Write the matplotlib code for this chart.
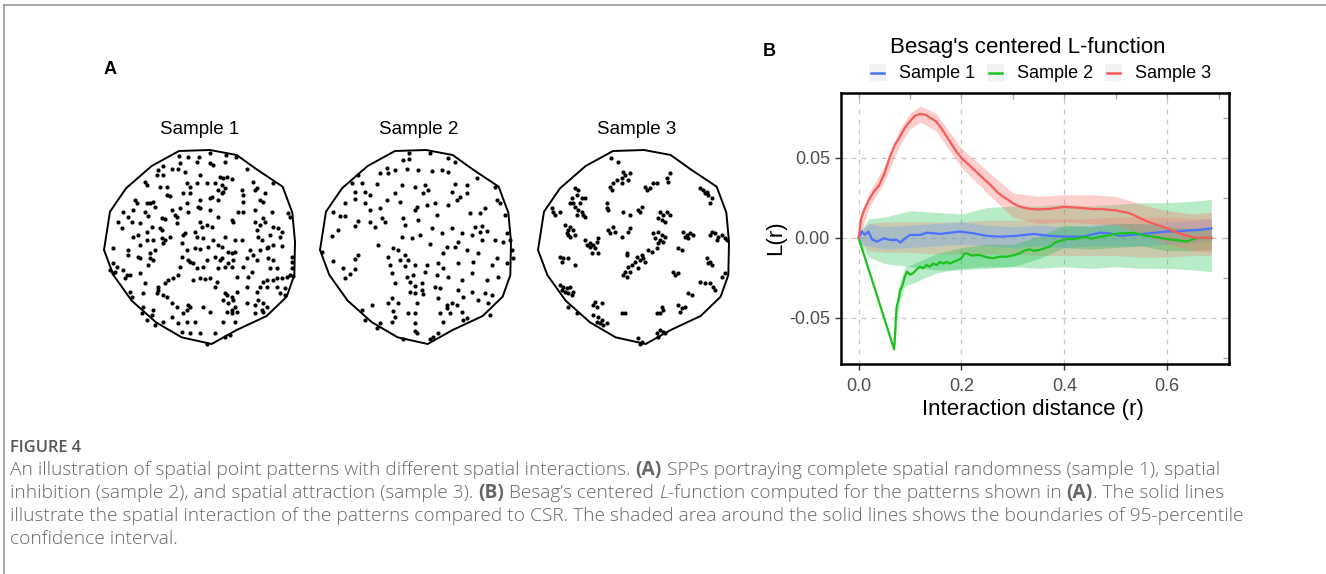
import numpy as np
import matplotlib.pyplot as plt
from matplotlib.patches import Polygon, Rectangle
from matplotlib.lines import Line2D

# ---------------- panel A: point patterns (read on a 3x grid of each crop) ----------------
window = [(237, 33), (330, 30), (410, 45), (470, 88), (548, 140), (577, 218), (585, 305),
          (583, 405), (560, 470), (500, 528), (410, 570), (335, 612), (245, 592), (168, 547),
          (95, 482), (40, 405), (12, 330), (30, 215), (78, 145), (155, 78)]

sample1 = [
    (237, 48), (265, 50), (297, 52), (292, 65), (330, 38), (377, 45), (408, 50), (240, 68), (330, 68), (340, 75), (375, 65),
    (190, 78), (215, 88), (233, 88), (175, 90), (255, 97), (190, 105), (170, 105), (135, 125), (140, 135), (300, 105),
    (360, 110), (370, 115), (380, 112), (395, 118), (440, 88),
    (180, 140), (200, 142), (260, 128), (290, 128), (320, 130), (345, 130), (365, 135), (375, 145), (355, 150), (365, 160),
    (370, 155), (425, 150), (460, 125), (470, 145), (465, 150), (495, 158), (520, 130),
    (105, 180), (110, 190), (140, 190), (150, 188), (160, 185), (200, 165), (210, 168), (250, 160), (270, 158), (270, 140),
    (300, 180), (330, 175), (355, 180), (335, 170), (430, 165), (430, 185), (480, 180), (490, 185),
    (70, 215), (85, 230), (55, 245), (100, 210), (135, 215), (145, 228), (165, 200), (185, 235), (215, 210), (225, 225),
    (232, 230), (240, 205), (260, 190), (265, 215), (295, 200), (300, 205), (330, 210), (415, 215), (430, 215), (465, 210),
    (515, 215), (565, 220), (570, 230),
    (65, 265), (95, 245), (120, 250), (155, 260), (180, 265), (185, 270), (195, 238), (230, 250), (300, 245), (305, 260),
    (320, 255), (335, 262), (355, 230), (395, 240), (400, 245), (465, 245), (490, 235), (495, 245), (480, 255), (520, 260),
    (535, 265), (545, 275),
    (100, 290), (115, 285), (140, 275), (140, 300), (160, 300), (185, 295), (195, 300), (210, 290), (250, 285), (255, 280),
    (285, 275), (290, 290), (310, 295), (340, 300), (375, 290), (405, 300), (425, 300), (470, 270), (475, 290), (485, 300),
    (510, 285), (540, 290),
    (40, 325), (85, 330), (120, 315), (150, 340), (165, 330), (190, 310), (245, 310), (260, 330), (285, 325), (300, 328),
    (325, 320), (355, 315), (365, 320), (385, 335), (395, 340), (405, 335), (450, 330), (460, 345), (480, 330), (500, 325),
    (505, 320), (520, 315), (545, 318),
    (40, 370), (50, 380), (85, 345), (115, 350), (120, 355), (150, 355), (160, 360), (245, 350), (265, 360), (270, 365),
    (280, 370), (320, 360), (345, 350), (360, 360), (365, 355), (385, 370), (400, 360), (440, 355), (470, 360), (505, 355),
    (520, 360), (575, 350), (575, 365),
    (30, 390), (40, 400), (45, 395), (70, 390), (80, 405), (120, 400), (145, 375), (240, 380), (290, 385), (310, 380),
    (355, 385), (375, 380), (395, 380), (430, 380), (455, 395), (510, 385), (530, 385), (575, 385), (570, 405),
    (75, 415), (90, 405), (135, 430), (175, 440), (195, 430), (205, 420), (220, 415), (235, 405), (280, 420), (300, 415),
    (315, 418), (330, 415), (350, 425), (410, 410), (445, 410), (490, 425), (500, 420), (520, 420), (530, 415), (545, 415),
    (560, 410), (580, 408),
    (90, 455), (95, 470), (130, 460), (170, 460), (175, 450), (190, 465), (200, 470), (345, 440), (375, 460), (380, 465),
    (395, 470), (410, 455), (440, 440), (470, 455), (480, 440), (500, 440), (530, 440), (555, 445),
    (130, 500), (160, 510), (215, 490), (230, 500), (265, 495), (260, 510), (310, 500), (370, 480), (385, 490), (400, 480),
    (405, 500), (395, 510), (440, 490), (465, 495), (475, 480), (490, 490), (500, 500), (540, 460), (555, 465),
    (125, 520), (155, 525), (215, 530), (250, 520), (270, 500), (330, 515), (380, 515), (395, 520), (410, 515), (485, 510),
    (490, 515), (465, 520),
    (140, 540), (165, 555), (190, 545), (235, 550), (260, 545), (285, 545), (370, 545), (405, 545),
    (245, 575), (270, 580), (300, 580), (345, 578), (375, 590), (320, 612), (390, 585)]

sample2 = [
    (283, 38), (345, 38), (265, 60), (283, 58), (400, 55), (420, 65),
    (215, 85), (240, 90), (195, 100), (220, 100), (275, 88), (310, 90), (350, 92), (380, 90), (400, 97), (130, 105),
    (110, 130), (485, 115),
    (140, 128), (185, 132), (260, 135), (300, 142), (330, 135), (340, 150), (325, 160), (420, 132), (455, 135), (540, 140),
    (120, 155), (150, 155), (165, 165), (240, 160), (410, 155), (435, 170), (455, 160),
    (90, 190), (120, 178), (150, 190), (215, 180), (255, 185), (300, 210), (305, 200), (335, 195), (360, 190), (400, 195),
    (425, 180), (545, 180), (555, 190),
    (55, 215), (75, 228), (90, 228), (165, 210), (195, 205), (200, 235), (210, 245), (130, 242), (120, 258), (165, 245),
    (180, 262), (265, 235), (270, 255), (310, 240), (365, 225), (465, 218), (510, 205), (495, 220), (570, 225),
    (70, 270), (50, 288), (260, 290), (290, 295), (315, 285), (350, 265), (380, 280), (410, 265), (440, 280), (470, 285),
    (480, 262), (500, 258), (515, 272), (495, 275), (575, 280), (585, 300), (565, 305),
    (190, 315), (235, 325), (250, 330), (270, 345), (220, 350), (345, 312), (395, 320), (420, 320), (430, 305), (385, 340),
    (455, 330), (490, 340), (540, 300), (500, 300), (590, 330), (595, 355),
    (20, 335), (55, 362), (120, 357), (130, 345), (225, 375), (255, 360), (280, 360), (300, 375), (270, 378), (335, 375),
    (370, 370), (385, 385), (430, 370), (475, 365), (530, 375), (545, 355), (575, 370),
    (85, 385), (120, 388), (105, 402), (90, 415), (230, 400), (275, 412), (295, 405), (330, 395), (365, 405), (400, 410),
    (440, 420), (470, 400), (515, 420), (550, 410),
    (240, 430), (285, 425), (300, 438), (320, 430), (285, 455), (300, 460), (325, 462), (320, 450), (375, 445), (360, 440),
    (430, 450), (470, 455), (510, 460), (530, 465),
    (230, 475), (220, 488), (250, 490), (305, 488), (370, 475), (395, 495), (410, 490), (425, 495), (445, 470), (490, 480),
    (520, 490),
    (140, 510), (170, 495), (235, 512), (280, 520), (300, 520), (375, 520), (395, 505), (405, 520), (440, 515), (455, 533),
    (525, 525),
    (150, 540), (195, 550), (230, 545), (240, 530), (300, 550), (385, 545), (445, 540),
    (185, 565), (300, 572), (305, 580), (370, 578), (355, 590), (265, 598), (345, 598)]

sample3 = [
    (228, 55), (248, 65),
    (265, 95), (270, 105), (285, 100), (260, 115), (280, 120), (245, 120), (235, 130), (225, 140), (230, 150), (262, 130),
    (330, 140), (335, 150), (345, 145), (355, 130), (365, 130), (395, 115), (405, 100), (400, 125),
    (495, 145), (505, 150), (510, 160), (520, 165), (530, 175), (525, 190), (515, 155),
    (120, 145), (130, 150), (125, 165), (110, 175), (140, 175), (115, 190), (105, 190), (135, 190), (120, 200), (130, 210),
    (140, 215), (145, 225), (150, 230), (125, 225), (150, 175),
    (50, 205), (55, 215), (60, 225), (75, 215),
    (215, 190), (215, 205), (220, 210),
    (265, 215), (285, 225), (310, 210), (320, 200), (315, 215),
    (375, 215), (385, 225), (395, 215), (405, 225), (380, 240), (390, 245), (370, 235),
    (90, 255), (105, 260), (100, 270), (115, 270), (95, 280), (105, 290), (120, 285), (100, 285),
    (220, 270), (235, 260), (240, 275), (225, 280), (285, 265), (280, 275), (260, 290),
    (370, 275), (380, 285), (390, 290), (375, 300), (385, 305), (370, 310), (355, 280), (360, 295),
    (445, 275), (455, 285), (465, 280), (450, 290), (460, 295), (475, 285),
    (530, 275), (540, 280), (550, 290), (560, 285), (570, 295), (575, 300), (525, 285), (545, 300),
    (150, 300), (165, 310), (175, 315), (185, 305), (190, 295), (165, 320), (180, 325), (170, 340), (190, 340), (155, 315),
    (340, 330), (350, 335), (365, 325), (430, 325), (440, 330),
    (275, 340), (275, 345),
    (75, 350), (85, 355), (80, 365), (100, 355), (120, 375),
    (305, 350), (315, 360), (325, 355), (320, 345), (330, 365), (300, 365), (290, 375), (310, 385), (280, 380), (270, 395),
    (265, 405), (275, 410), (285, 395),
    (515, 355), (525, 365), (530, 375), (520, 370),
    (415, 395), (420, 405), (430, 400),
    (570, 400), (560, 410),
    (75, 435), (85, 440), (95, 445), (90, 455), (100, 460), (110, 465), (115, 455), (80, 450), (105, 440),
    (495, 425), (510, 430), (525, 430), (535, 440), (540, 450),
    (460, 460), (470, 465),
    (180, 485), (200, 490), (185, 500), (175, 495),
    (100, 500), (125, 520),
    (380, 500), (385, 510), (375, 520), (365, 520),
    (430, 495), (440, 505), (450, 500), (435, 515),
    (260, 520), (270, 518),
    (175, 525), (190, 530), (200, 540), (185, 545), (205, 555), (215, 550), (195, 550),
    (375, 570), (385, 575), (390, 580), (365, 580), (370, 590),
    (310, 595), (320, 605), (315, 612)]

sample_titles = ["Sample 1", "Sample 2", "Sample 3"]

# ---------------- panel B: centred L-function ----------------
red_r = [0, 0.005, 0.01, 0.02, 0.03, 0.04, 0.05, 0.06, 0.07, 0.08, 0.09, 0.10, 0.11, 0.12, 0.13, 0.14,
         0.15, 0.16, 0.17, 0.18, 0.19, 0.20, 0.21, 0.22, 0.23, 0.24, 0.25, 0.26, 0.27, 0.28, 0.29, 0.30,
         0.31, 0.32, 0.33, 0.34, 0.35, 0.36, 0.37, 0.38, 0.39, 0.40, 0.41, 0.42, 0.43, 0.44, 0.45, 0.46,
         0.47, 0.48, 0.49, 0.50, 0.51, 0.52, 0.53, 0.54, 0.55, 0.56, 0.57, 0.58, 0.59, 0.60, 0.61, 0.62,
         0.63, 0.64, 0.65, 0.66, 0.67, 0.686]
red_v = [0, 0.012, 0.017, 0.024, 0.029, 0.033, 0.040, 0.050, 0.058, 0.063, 0.069, 0.073, 0.0765, 0.0775,
         0.077, 0.075, 0.073, 0.069, 0.064, 0.059, 0.054, 0.050, 0.047, 0.044, 0.041, 0.038, 0.035, 0.032,
         0.0285, 0.026, 0.024, 0.0217, 0.020, 0.019, 0.0183, 0.018, 0.0178, 0.018, 0.0181, 0.0185, 0.019,
         0.0194, 0.0192, 0.019, 0.0188, 0.0185, 0.0182, 0.018, 0.0181, 0.0178, 0.0175, 0.0173, 0.0165,
         0.016, 0.015, 0.0135, 0.012, 0.0105, 0.0093, 0.0082, 0.0072, 0.006, 0.0045, 0.0033, 0.0022,
         0.0012, 0.0005, 0.0, 0.0002, 0.0]

blue_r = [0, 0.006, 0.012, 0.019, 0.026, 0.036, 0.049, 0.062, 0.075, 0.081, 0.091, 0.10, 0.12, 0.133,
          0.146, 0.159, 0.178, 0.197, 0.223, 0.249, 0.275, 0.307, 0.34, 0.372, 0.404, 0.437, 0.469, 0.489,
          0.508, 0.534, 0.566, 0.598, 0.618, 0.637, 0.663, 0.686]
blue_v = [0, 0.004, 0.002, 0.004, -0.001, -0.0023, -0.0002, -0.0013, -0.0013, -0.0029, -0.0002, 0.0019,
          0.0019, 0.0033, 0.0029, 0.0025, 0.0033, 0.004, 0.0029, 0.0013, 0.0008, 0.0013, 0.0025, 0.0013,
          0.0008, 0.0008, 0.0033, 0.0029, 0.0013, 0.0019, 0.0029, 0.004, 0.004, 0.0046, 0.005, 0.006]

green_r = [0, 0.069, 0.071, 0.072, 0.074, 0.078, 0.081, 0.085, 0.090, 0.094, 0.100, 0.106, 0.112, 0.119,
           0.125, 0.132, 0.138, 0.145, 0.152, 0.158, 0.165, 0.171, 0.178, 0.184, 0.192, 0.200, 0.205,
           0.210, 0.220, 0.235, 0.248, 0.261, 0.275, 0.287, 0.300, 0.313, 0.322, 0.333, 0.340, 0.352,
           0.372, 0.384, 0.398, 0.408, 0.416, 0.430, 0.442, 0.452, 0.469, 0.481, 0.490, 0.508, 0.526,
           0.534, 0.545, 0.560, 0.571, 0.585, 0.597, 0.611, 0.623, 0.637, 0.650, 0.663, 0.686]
green_v = [0, -0.0696, -0.060, -0.052, -0.043, -0.038, -0.0325, -0.030, -0.024, -0.021, -0.023, -0.022,
           -0.020, -0.018, -0.019, -0.017, -0.018, -0.016, -0.017, -0.015, -0.016, -0.015, -0.016, -0.015,
           -0.014, -0.0127, -0.010, -0.0096, -0.011, -0.0106, -0.012, -0.0127, -0.0117, -0.0117, -0.011,
           -0.0096, -0.008, -0.0071, -0.008, -0.0075, -0.0054, -0.0025, -0.0013, -0.0005, -0.0008, 0.0,
           0.0008, -0.0005, 0.0008, 0.0012, 0.002, 0.0029, 0.003, 0.0033, 0.0025, 0.0012, 0.001, 0.0002,
           -0.0005, -0.0013, -0.0015, -0.0023, -0.0008, 0.0, 0.0]

band_r = [0, 0.02, 0.05, 0.10, 0.15, 0.20, 0.25, 0.30, 0.35, 0.40, 0.45, 0.50, 0.55, 0.60, 0.65, 0.686]
blue_hi = [0.004, 0.009, 0.007, 0.008, 0.009, 0.010, 0.008, 0.007, 0.008, 0.007, 0.008, 0.009, 0.009, 0.010, 0.011, 0.012]
blue_lo = [-0.004, -0.005, -0.007, -0.006, -0.005, -0.004, -0.005, -0.006, -0.005, -0.006, -0.005, -0.005, -0.005, -0.004, -0.003, -0.002]
red_env_hi = [0.002, 0.009, 0.010, 0.010, 0.010, 0.010, 0.011, 0.011, 0.012, 0.012, 0.012, 0.013, 0.013, 0.013, 0.012, 0.012]
red_env_lo = [-0.002, -0.008, -0.009, -0.009, -0.010, -0.010, -0.010, -0.010, -0.011, -0.011, -0.011, -0.011, -0.012, -0.012, -0.011, -0.011]
green_env_hi = [0.003, 0.012, 0.013, 0.017, 0.016, 0.015, 0.019, 0.020, 0.020, 0.021, 0.020, 0.021, 0.022, 0.022, 0.023, 0.024]
green_env_lo = [-0.003, -0.012, -0.016, -0.018, -0.020, -0.020, -0.019, -0.018, -0.019, -0.018, -0.019, -0.018, -0.019, -0.019, -0.020, -0.021]

red_ci_r = [0, 0.02, 0.05, 0.08, 0.10, 0.12, 0.15, 0.20, 0.25, 0.30, 0.35, 0.40, 0.45, 0.50, 0.55, 0.60, 0.65, 0.686]
red_ci_hi = [0.006, 0.028, 0.045, 0.068, 0.078, 0.0825, 0.078, 0.056, 0.042, 0.028, 0.026, 0.027, 0.027, 0.026, 0.021, 0.017, 0.015, 0.016]
red_ci_lo = [-0.002, 0.019, 0.035, 0.058, 0.068, 0.0725, 0.067, 0.044, 0.028, 0.013, 0.009, 0.010, 0.009, 0.008, 0.003, -0.004, -0.008, -0.009]

green_ci_r = [0.069, 0.072, 0.075, 0.08, 0.09, 0.10, 0.15, 0.20, 0.25, 0.30, 0.35, 0.40, 0.45, 0.50, 0.55, 0.60, 0.65, 0.686]
green_ci_hi = [-0.066, -0.047, -0.036, -0.028, -0.018, -0.017, -0.010, -0.006, -0.004, -0.004, 0.001, 0.008, 0.007, 0.009, 0.009, 0.007, 0.006, 0.007]
green_ci_lo = [-0.071, -0.060, -0.050, -0.040, -0.030, -0.029, -0.022, -0.019, -0.018, -0.018, -0.013, -0.006, -0.007, -0.006, -0.005, -0.008, -0.008, -0.007]

x_ticks = [0.0, 0.2, 0.4, 0.6]
x_ticklabels = ["0.0", "0.2", "0.4", "0.6"]
y_ticks = [-0.05, 0.0, 0.05]
y_ticklabels = ["-0.05", "0.00", "0.05"]
top_ticks = [0.0, 0.1, 0.2, 0.3, 0.4, 0.5, 0.6, 0.7]
right_ticks = [-0.075, -0.05, -0.025, 0.0, 0.025, 0.05, 0.075]

legend_labels = ["Sample 1", "Sample 2", "Sample 3"]

caption_lines = [
    [("An illustration of spatial point patterns with different spatial interactions.", "normal", "normal", False),
     ("(A)", "bold", "normal", True),
     ("SPPs portraying complete spatial randomness (sample 1), spatial", "normal", "normal", True)],
    [("inhibition (sample 2), and spatial attraction (sample 3).", "normal", "normal", False),
     ("(B)", "bold", "normal", True),
     ("Besag\u2019s centered", "normal", "normal", True),
     ("L", "normal", "italic", True),
     ("-function computed for the patterns shown in", "normal", "normal", False),
     ("(A)", "bold", "normal", True),
     (". The solid lines", "normal", "normal", False)],
    [("illustrate the spatial interaction of the patterns compared to CSR. The shaded area around the solid "
      "lines shows the boundaries of 95-percentile", "normal", "normal", False)],
    [("confidence interval.", "normal", "normal", False)],
]

# ---------------- drawing ----------------
RED, GREEN, BLUE = "#F65A5A", "#1CC21C", "#4A72FF"
RED_F, GREEN_F, BLUE_F = "#F8766D", "#00BA38", "#619CFF"
GG = "Liberation Sans"
CAP = "Open Sans"

W, H = 1326, 574
fig = plt.figure(figsize=(W / 100, H / 100), dpi=100)
bg = fig.add_axes([0, 0, 1, 1])
bg.set_xlim(0, W)
bg.set_ylim(H, 0)
bg.axis("off")

# page frame
bg.plot([4, W], [5, 5], color="#9a9a9a", lw=1.2)
bg.plot([4, 4], [5, H], color="#9a9a9a", lw=1.2)

bg.text(104, 70, "A", fontsize=13, fontweight="bold", family=GG, va="center", ha="left")
bg.text(763, 52, "B", fontsize=13, fontweight="bold", family=GG, va="center", ha="left")

origins = [(100, 140), (315, 140), (535, 140)]
shifts = [0, 216, 434]
centers = [200, 419, 637]
for pts, (ox, oy), sh, title, cx in zip([sample1, sample2, sample3], origins, shifts, sample_titles, centers):
    xs = [ox + p[0] / 3 for p in pts]
    ys = [oy + p[1] / 3 for p in pts]
    bg.scatter(xs, ys, s=9, c="black", linewidths=0)
    poly = [(100 + vx / 3 + sh, 140 + vy / 3) for vx, vy in window]
    bg.add_patch(Polygon(poly, closed=True, fill=False, ec="black", lw=1.4, joinstyle="miter"))
    bg.text(cx, 129, title, fontsize=13.5, family=GG, ha="center", va="center")

# L-function axes
ax = fig.add_axes([841 / W, 1 - 364 / H, (1229 - 841) / W, (364 - 93) / H])
ax.set_xlim(-0.0343, 0.7203)
ax.set_ylim(-0.0788, 0.0906)

ax.fill_between(band_r, green_env_lo, green_env_hi, color=GREEN_F, alpha=0.28, lw=0)
ax.fill_between(band_r, red_env_lo, red_env_hi, color=RED_F, alpha=0.28, lw=0)
ax.fill_between(band_r, blue_lo, blue_hi, color=BLUE_F, alpha=0.3, lw=0)
ax.fill_between(green_ci_r, green_ci_lo, green_ci_hi, color=GREEN_F, alpha=0.28, lw=0)
ax.fill_between(red_ci_r, red_ci_lo, red_ci_hi, color=RED_F, alpha=0.35, lw=0)

ax.plot(blue_r, blue_v, color=BLUE, lw=1.6)
ax.plot(green_r, green_v, color=GREEN, lw=1.6)
ax.plot(red_r, red_v, color=RED, lw=1.6)

ax.set_xticks(x_ticks)
ax.set_xticklabels(x_ticklabels)
ax.set_yticks(y_ticks)
ax.set_yticklabels(y_ticklabels)
ax.tick_params(direction="out", length=4, width=1, color="#333333", labelsize=13,
               labelcolor="#4D4D4D", pad=4)
ax.tick_params(axis="x", pad=6)
for lab in ax.get_xticklabels() + ax.get_yticklabels():
    lab.set_family(GG)
ax.grid(True, color="#C8C8C8", linestyle=(0, (4, 4)), linewidth=0.9)
ax.set_axisbelow(True)
for s in ax.spines.values():
    s.set_linewidth(1.8)
    s.set_color("black")

secx = ax.secondary_xaxis("top")
secx.set_xticks(top_ticks)
secx.tick_params(direction="in", length=4, width=1, color="#AAAAAA", labeltop=False)
secx.spines["top"].set_visible(False)
secy = ax.secondary_yaxis("right")
secy.set_yticks(right_ticks)
secy.tick_params(direction="in", length=4, width=1, color="#AAAAAA", labelright=False)
secy.spines["right"].set_visible(False)

bg.text(776, 238, "L(r)", fontsize=16, family=GG, rotation=90, ha="center", va="center")
bg.text(1033, 409, "Interaction distance (r)", fontsize=16, family=GG, ha="center", va="center")
bg.text(1028, 48, "Besag's centered L-function", fontsize=16, family=GG, ha="center", va="center")

# legend
key_x = [870, 988, 1106]
for kx, lab, col in zip(key_x, legend_labels, [BLUE, GREEN, RED]):
    bg.add_patch(Rectangle((kx - 1, 64), 17, 17, fc="#F2F2F2", ec="none"))
    bg.add_line(Line2D([kx + 1, kx + 14], [72.5, 72.5], color=col, lw=1.8))
    bg.text(kx + 29, 73, lab, fontsize=13, family=GG, ha="left", va="center")

# caption: pick the size so that the longest line ends where it does in the page
renderer = fig.canvas.get_renderer()
probe = bg.text(0, 0, caption_lines[2][0][0], fontsize=12, family=CAP, fontweight="light")
cap_size = 12 * 1234 / probe.get_window_extent(renderer).width
probe.remove()

bg.text(10, 452, "FIGURE 4", fontsize=cap_size * 0.85, family=CAP, fontweight="semibold",
        color="#555555", ha="left", va="baseline")

probe1 = bg.text(0, 0, "a a", fontsize=cap_size, family=CAP, fontweight="light")
probe2 = bg.text(0, 0, "aa", fontsize=cap_size, family=CAP, fontweight="light")
space_w = probe1.get_window_extent(renderer).width - probe2.get_window_extent(renderer).width
probe1.remove()
probe2.remove()

baselines = [475, 498, 521, 544]
for parts, yb in zip(caption_lines, baselines):
    x = 10
    for text, weight, style, gap in parts:
        if gap:
            x += space_w
        w = "light" if weight == "normal" else weight
        t = bg.text(x, yb, text, fontsize=cap_size, family=CAP, fontweight=w, fontstyle=style,
                    color="#666666", ha="left", va="baseline")
        x += t.get_window_extent(renderer).width

fig.savefig("out.png", dpi=100)
